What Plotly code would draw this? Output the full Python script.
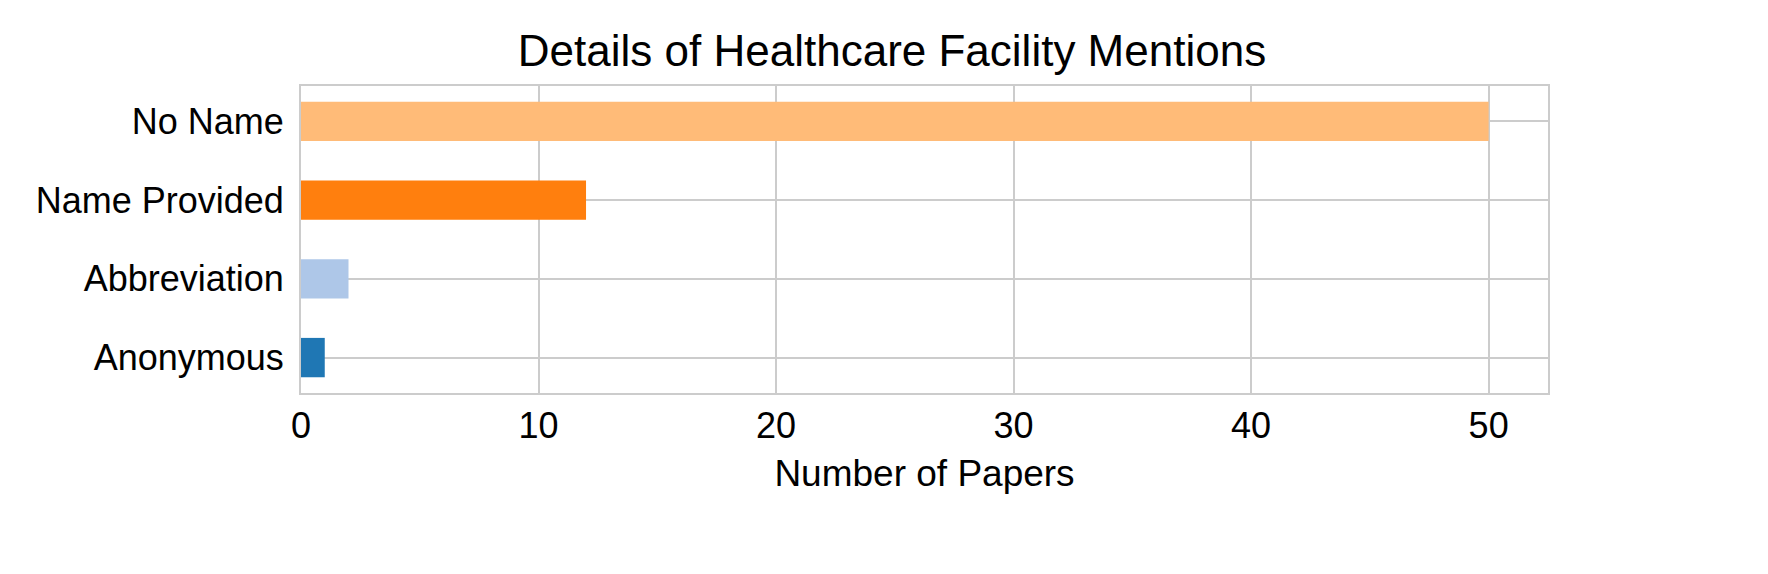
import plotly.graph_objects as go

categories = ["Anonymous", "Abbreviation", "Name Provided", "No Name"]
counts = [1, 2, 12, 50]
colors = ["#1f77b4", "#aec7e8", "#ff7f0e", "#ffbb78"]

fig = go.Figure(go.Bar(
    x=counts, y=categories, orientation="h",
    marker=dict(color=colors, line_width=0), width=0.5,
))
fig.update_layout(
    width=1768, height=574,
    margin=dict(l=293, r=228, t=78, b=189),
    paper_bgcolor="white", plot_bgcolor="white",
    font=dict(family="Arial, Liberation Sans, sans-serif", size=36, color="black"),
    title=dict(text="Details of Healthcare Facility Mentions", x=0.5, xanchor="center",
               y=0.925, yanchor="middle", font=dict(size=44)),
    showlegend=False,
)
fig.update_xaxes(range=[0, 52.5], dtick=10, showgrid=True, gridcolor="#cccccc", gridwidth=2,
                 zeroline=False, showline=True, linecolor="#cccccc", linewidth=2, mirror=True,
                 ticks="", title=dict(text="Number of Papers", font=dict(size=37), standoff=15))
fig.update_yaxes(range=[-0.45, 3.45], showgrid=True, gridcolor="#cccccc", gridwidth=2,
                 showline=True, linecolor="#cccccc", linewidth=2, mirror=True,
                 ticks="", ticklabelstandoff=8)
fig.write_html("out.html")
